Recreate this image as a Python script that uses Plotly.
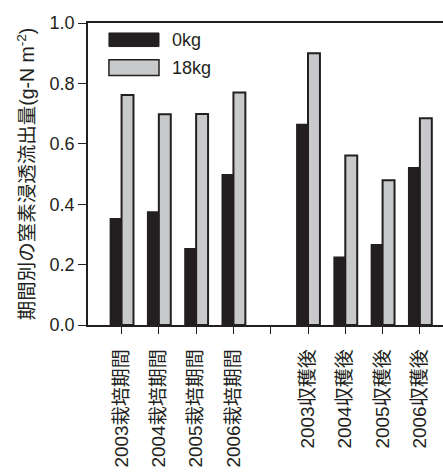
import plotly.graph_objects as go

categories = ["2003栽培期間", "2004栽培期間", "2005栽培期間", "2006栽培期間", "",
              "2003収穫後", "2004収穫後", "2005収穫後", "2006収穫後"]
vals_0kg = [0.354, 0.377, 0.255, 0.50, None, 0.666, 0.227, 0.268, 0.523]
vals_18kg = [0.762, 0.698, 0.699, 0.77, None, 0.90, 0.561, 0.479, 0.685]
series_names = ["0kg", "18kg"]
y_ticks = [0.0, 0.2, 0.4, 0.6, 0.8, 1.0]

FONT = "Liberation Sans, Arial, Noto Sans CJK JP"
BLACK = "#231f20"
GREY = "#c8c9cb"

xpos = list(range(len(categories)))
label_pos = [i for i, c in enumerate(categories) if c]
label_txt = [c for c in categories if c]

fig = go.Figure()
fig.add_trace(go.Bar(x=xpos, y=vals_0kg, name=series_names[0],
                     marker=dict(color=BLACK, line=dict(color=BLACK, width=0)),
                     showlegend=False, cliponaxis=False))
fig.add_trace(go.Bar(x=xpos, y=vals_18kg, name=series_names[1],
                     marker=dict(color=GREY, line=dict(color=BLACK, width=2)),
                     showlegend=False, cliponaxis=False))

# manual legend (wide rectangles like the reference)
fig.add_shape(type="rect", xref="paper", yref="paper", x0=0.059, x1=0.200, y0=0.922, y1=0.967,
              fillcolor=BLACK, line=dict(color=BLACK, width=1))
fig.add_shape(type="rect", xref="paper", yref="paper", x0=0.059, x1=0.200, y0=0.826, y1=0.878,
              fillcolor=GREY, line=dict(color=BLACK, width=1.5))
fig.add_annotation(xref="paper", yref="paper", x=0.232, y=0.944, text=series_names[0],
                   showarrow=False, xanchor="left", yanchor="middle",
                   font=dict(family=FONT, size=18, color="#231f20"))
fig.add_annotation(xref="paper", yref="paper", x=0.232, y=0.852, text=series_names[1],
                   showarrow=False, xanchor="left", yanchor="middle",
                   font=dict(family=FONT, size=18, color="#231f20"))

fig.update_layout(
    width=443, height=475,
    margin=dict(l=88, r=0, t=23, b=150, autoexpand=False),
    paper_bgcolor="white", plot_bgcolor="white",
    barmode="group", bargap=0.36, bargroupgap=0,
    font=dict(family=FONT, size=18, color="#231f20"),
)
fig.update_xaxes(
    range=[-0.9, 8.62], tickmode="array", tickvals=label_pos, ticktext=label_txt,
    tickangle=-90, ticks="outside", ticklen=7, tickwidth=1.2, tickcolor="#231f20",
    ticklabelstandoff=8,
    minor=dict(tickmode="array", tickvals=xpos, ticks="outside", ticklen=7,
               tickwidth=1.2, tickcolor="#231f20", showgrid=False),
    showline=True, linecolor="#231f20", linewidth=1.5, mirror=True,
    showgrid=False, zeroline=False, tickfont=dict(size=19), automargin=False,
)
fig.update_yaxes(
    range=[0, 1.0], tickmode="array", tickvals=y_ticks,
    tickformat=".1f", ticks="outside", ticklen=8, tickwidth=1.2, tickcolor="#231f20",
    showline=True, linecolor="#231f20", linewidth=1.5, mirror=False,
    showgrid=False, zeroline=False, tickfont=dict(size=18), automargin=False,
    title=dict(text="期間別の窒素浸透流出量(g-N m<sup>-2</sup>)", font=dict(size=19.5), standoff=10),
)

fig.write_html("out.html", post_script="document.body.style.margin='0';",
               config={"displayModeBar": False})
